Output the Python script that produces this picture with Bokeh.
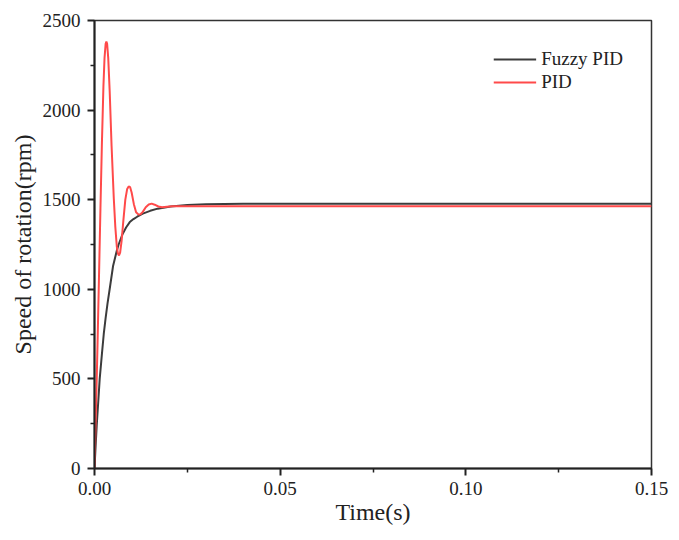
from bokeh.plotting import figure
from bokeh.models import Range1d, FixedTicker, NumeralTickFormatter, Legend, LegendItem
from bokeh.embed import file_html
from bokeh.resources import INLINE

# ---- data ----
pid_t = [0.0000, 0.0004, 0.0008, 0.0012, 0.0016, 0.0020, 0.0024, 0.0027, 0.0030, 0.0032,
         0.0034, 0.0037, 0.0041, 0.0046, 0.0052, 0.0056, 0.0060, 0.0063, 0.0066, 0.0069,
         0.0073, 0.0078, 0.0083, 0.0088, 0.0092, 0.0096, 0.0100, 0.0106, 0.0112, 0.0118,
         0.0124, 0.0130, 0.0138, 0.0146, 0.0154, 0.0162, 0.0172, 0.0182, 0.0195, 0.0210,
         0.0250, 0.0400, 0.1500]
pid_v = [0, 330, 680, 1060, 1450, 1820, 2130, 2290, 2370, 2383,
         2370, 2290, 2100, 1800, 1505, 1350, 1240, 1200, 1189, 1205,
         1270, 1390, 1500, 1560, 1574, 1570, 1540, 1475, 1430, 1418,
         1419, 1432, 1458, 1473, 1478, 1472, 1462, 1458, 1461, 1464,
         1464, 1464, 1464]

fuzzy_t = [0.0000, 0.0003, 0.0006, 0.0010, 0.0014, 0.0020, 0.0025, 0.0030, 0.0035, 0.0041,
           0.0050, 0.0060, 0.0065, 0.0075, 0.0085, 0.0095, 0.0105, 0.0115, 0.0130, 0.0150,
           0.0170, 0.0205, 0.0250, 0.0300, 0.0400, 0.1500]
fuzzy_v = [0, 125, 240, 370, 500, 640, 752, 840, 920, 1003,
           1130, 1215, 1250, 1305, 1345, 1375, 1392, 1405, 1422, 1438,
           1450, 1462, 1470, 1475, 1477, 1477]

x_ticks = [0.0, 0.05, 0.10, 0.15]
x_minor = [0.025, 0.075, 0.125]
y_ticks = [0, 500, 1000, 1500, 2000, 2500]
y_minor = [250, 750, 1250, 1750, 2250]

FONT = "Liberation Serif"

p = figure(width=671, height=532, output_backend="svg", toolbar_location=None,
           x_range=Range1d(0, 0.15), y_range=Range1d(0, 2500),
           min_border_left=94, min_border_right=20, min_border_top=20, min_border_bottom=64)
p.grid.visible = False
p.outline_line_color = "#333333"
p.outline_line_width = 1.5

r_fuzzy = p.line(fuzzy_t, fuzzy_v, line_color="#3c3c3c", line_width=2)
r_pid = p.line(pid_t, pid_v, line_color="#ff4a4a", line_width=2)

for ax, ticks, minor in ((p.xaxis[0], x_ticks, x_minor), (p.yaxis[0], y_ticks, y_minor)):
    ax.ticker = FixedTicker(ticks=ticks, minor_ticks=minor)
    ax.axis_line_color = "#222222"
    ax.axis_line_width = 2
    ax.major_tick_line_color = "#222222"
    ax.minor_tick_line_color = "#222222"
    ax.major_tick_line_width = 2
    ax.minor_tick_line_width = 1.5
    ax.major_tick_in = 0
    ax.major_tick_out = 7
    ax.minor_tick_in = 0
    ax.minor_tick_out = 4
    ax.major_label_text_font = FONT
    ax.major_label_text_font_size = "19px"
    ax.major_label_text_color = "#222222"
    ax.axis_label_text_font = FONT
    ax.axis_label_text_font_size = "24px"
    ax.axis_label_text_font_style = "normal"
    ax.axis_label_text_color = "#222222"

p.xaxis[0].formatter = NumeralTickFormatter(format="0.00")
p.xaxis[0].axis_label = "Time(s)"
p.xaxis[0].major_label_standoff = 6
p.xaxis[0].axis_label_standoff = 1
p.yaxis[0].axis_label = "Speed of rotation(rpm)"
p.yaxis[0].major_label_standoff = 7
p.yaxis[0].axis_label_standoff = 4

legend = Legend(items=[LegendItem(label="Fuzzy PID", renderers=[r_fuzzy]),
                       LegendItem(label="PID", renderers=[r_pid])],
                location="top_right")
legend.border_line_color = None
legend.background_fill_alpha = 0
legend.label_text_font = FONT
legend.label_text_font_size = "19px"
legend.label_text_color = "#222222"
legend.glyph_width = 43
legend.glyph_height = 22
legend.label_height = 22
legend.label_standoff = 5
legend.spacing = 1
legend.margin = 28
legend.padding = 0
p.add_layout(legend)

open("out.html", "w").write(file_html(p, INLINE))
